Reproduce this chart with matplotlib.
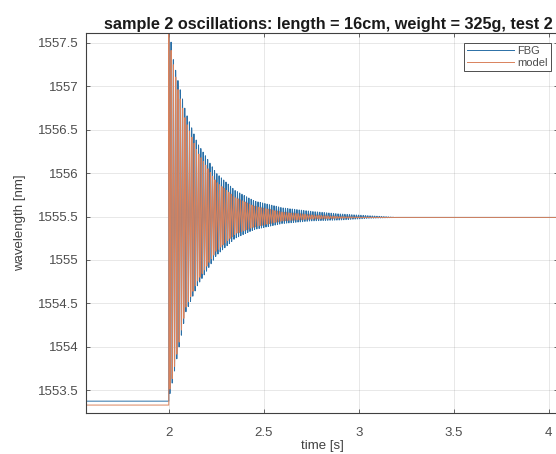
"""Sample 2 oscillation plot: FBG wavelength vs fitted model."""

import matplotlib
matplotlib.use("Agg")
import matplotlib.pyplot as plt
import numpy as np

# values
step_time = 2.0
t_start, t_end = 1.564, 4.05
pre_fbg, pre_model = 1553.373, 1553.328
freq_fbg, freq_model = 83.0, 82.2   # oscillation frequency [Hz]

env_t = [2.0, 2.02, 2.05, 2.09, 2.15, 2.25, 2.35, 2.45, 2.6, 2.75, 2.9, 3.05, 3.2, 3.5, 4.1]
fbg_upper = [1557.75, 1557.35, 1557.05, 1556.7, 1556.35, 1556.0, 1555.8, 1555.68,
             1555.6, 1555.56, 1555.53, 1555.51, 1555.49, 1555.49, 1555.49]
fbg_lower = [1553.4, 1553.6, 1553.95, 1554.4, 1554.7, 1555.05, 1555.25, 1555.35,
             1555.42, 1555.45, 1555.46, 1555.48, 1555.49, 1555.49, 1555.49]
model_upper = [1557.6, 1557.3, 1556.95, 1556.6, 1556.25, 1555.9, 1555.72, 1555.62,
               1555.55, 1555.52, 1555.5, 1555.49, 1555.49, 1555.49, 1555.49]
model_lower = [1553.45, 1553.65, 1554.0, 1554.45, 1554.75, 1555.1, 1555.3, 1555.38,
               1555.45, 1555.47, 1555.48, 1555.49, 1555.49, 1555.49, 1555.49]

title = "sample 2 oscillations: length = 16cm, weight = 325g, test 2"
x_ticks = [2, 2.5, 3, 3.5, 4]
y_ticks = [1553.5, 1554, 1554.5, 1555, 1555.5, 1556, 1556.5, 1557, 1557.5]

FBG_COLOR = "#2a6fa6"
MODEL_COLOR = "#d9825c"


def build_trace(pre, upper, lower, freq, fs=4000):
    """Flat level before the release, then the oscillation inside the read envelope."""
    t_pre = np.array([t_start, step_time])
    t_osc = np.arange(step_time, t_end, 1 / fs)
    up = np.interp(t_osc, env_t, upper)
    lo = np.interp(t_osc, env_t, lower)
    y_osc = (up + lo) / 2 + (up - lo) / 2 * np.cos(2 * np.pi * freq * (t_osc - step_time))
    return np.r_[t_pre, t_osc], np.r_[[pre, pre], y_osc]


plt.rcParams.update({
    "font.family": ["Liberation Sans", "DejaVu Sans"],
    "font.size": 9.5,
    "axes.edgecolor": "0.25",
    "xtick.color": "0.3",
    "ytick.color": "0.3",
})

fig = plt.figure(figsize=(5.56, 4.54), dpi=100)
ax = fig.add_axes([86 / 556, 1 - 412.7 / 454, (558 - 86) / 556, (412.7 - 33) / 454])

t_f, y_f = build_trace(pre_fbg, fbg_upper, fbg_lower, freq_fbg)
t_m, y_m = build_trace(pre_model, model_upper, model_lower, freq_model)
ax.plot(t_f, y_f, color=FBG_COLOR, lw=0.7, label="FBG")
ax.plot(t_m, y_m, color=MODEL_COLOR, lw=0.7, label="model")

ax.set_xlim(t_start, t_end)
ax.set_ylim(1553.24, 1557.615)
ax.set_xticks(x_ticks)
ax.set_xticklabels([f"{v:g}" for v in x_ticks])
ax.set_yticks(y_ticks)
ax.set_yticklabels([f"{v:g}" for v in y_ticks])
ax.tick_params(direction="in", top=True, right=True, length=3, width=0.6)
ax.tick_params(axis="x", pad=10)
ax.tick_params(axis="y", pad=5)
ax.grid(True, color="0.15", alpha=0.12, lw=0.6)
for s in ax.spines.values():
    s.set_linewidth(0.8)

ax.set_xlabel("time [s]", color="0.25", labelpad=1)
ax.set_ylabel("wavelength [nm]", color="0.25", labelpad=9)
ax.set_title(title, fontsize=11.7, fontweight="bold", color="0.1", pad=3, x=0.513)

leg = ax.legend(loc="upper right", bbox_to_anchor=(0.985, 0.974), borderaxespad=0,
                fontsize=8, handlelength=4.2, frameon=True, fancybox=False,
                edgecolor="0.3", framealpha=1, borderpad=0.3, labelspacing=0.15,
                handletextpad=0.3)
leg.get_frame().set_linewidth(0.7)
for txt in leg.get_texts():
    txt.set_color("0.3")

fig.savefig("out.png", dpi=100)
